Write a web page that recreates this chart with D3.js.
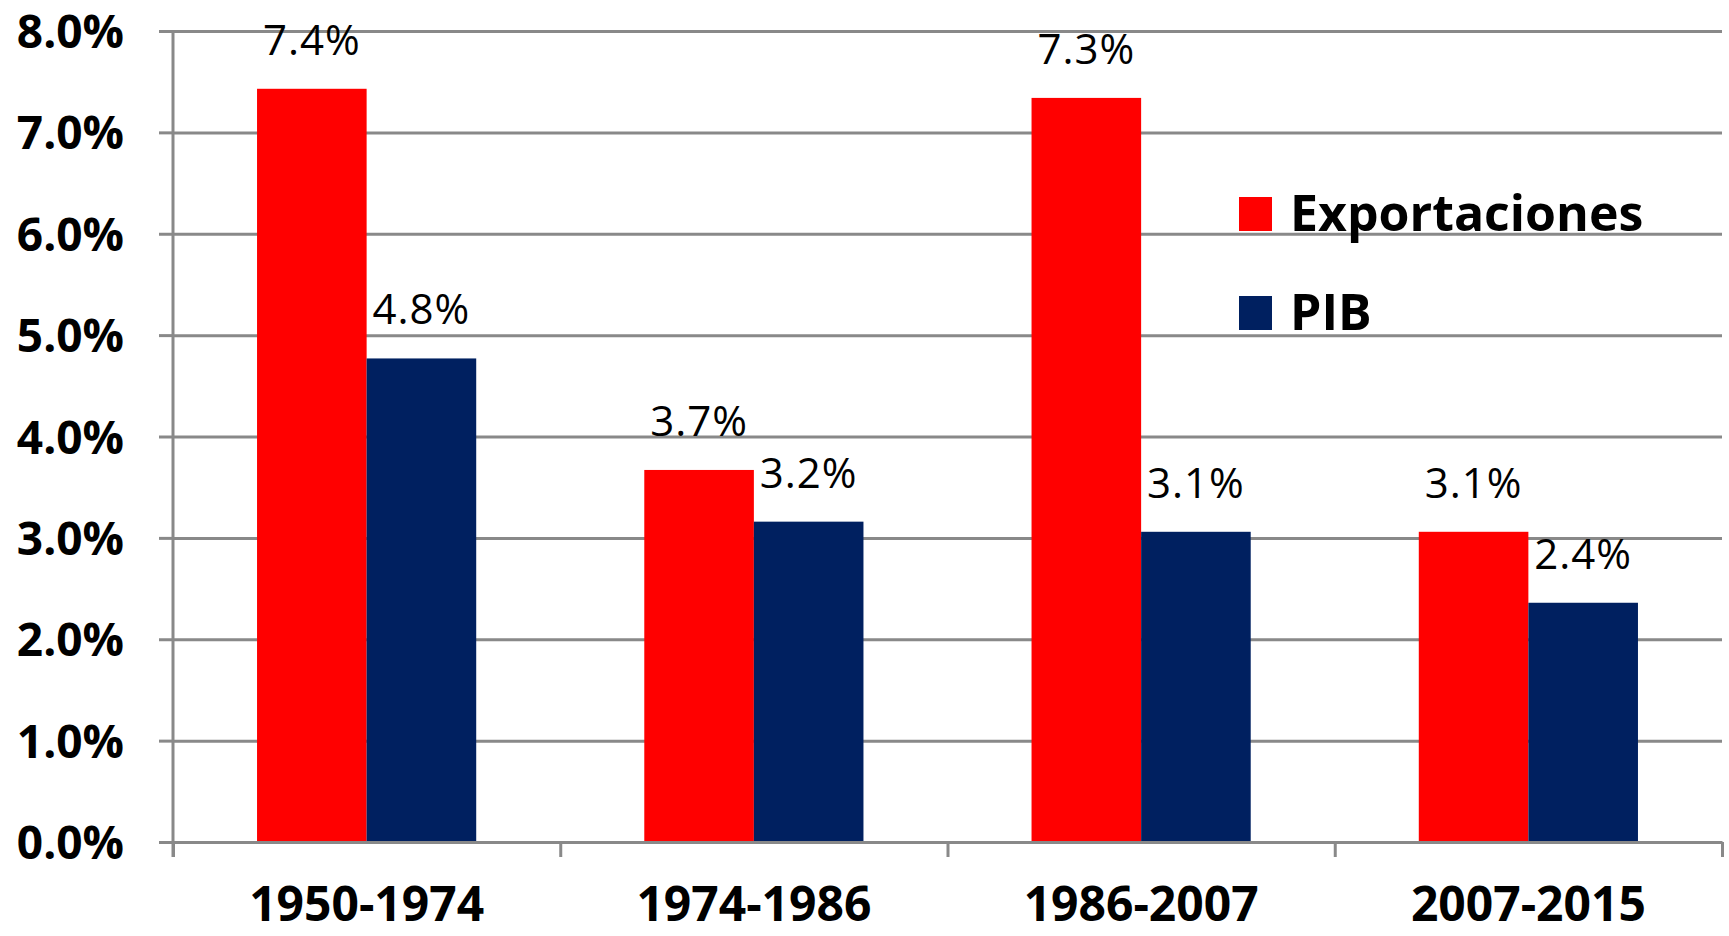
<!DOCTYPE html>
<html>
<head>
<meta charset="utf-8">
<script src="https://cdn.jsdelivr.net/npm/d3@7"></script>
<style>
  body { margin: 0; background: #fff; }
  svg { display: block; }
  svg text { font-family: "Open Sans", sans-serif; }
  .grid line, .axis line, .axis path { stroke: #898989; stroke-width: 3; }
  .grid path { display: none; }
</style>
</head>
<body>
<div id="chart"></div>
<script>
var categories = ['1950-1974', '1974-1986', '1986-2007', '2007-2015'];
var series = ['Exportaciones', 'PIB'];
var exportaciones = [7.43, 3.67, 7.34, 3.06];
var pib = [4.77, 3.16, 3.06, 2.36];
var yTicks = [0, 1, 2, 3, 4, 5, 6, 7, 8];
var colors = ['#ff0000', '#002060'];

var margin = { top: 31, right: 7, bottom: 94, left: 173 },
  width = 1729 - margin.left - margin.right,
  height = 936 - margin.top - margin.bottom;

var data = categories.map(function(c, i){
  return { cat: c, values: [exportaciones[i], pib[i]] };
});

var x0 = d3.scaleBand()
  .domain(categories)
  .range([0, width])
  .paddingInner(0.434)
  .paddingOuter(0.217);

var x1 = d3.scaleBand()
  .domain(d3.range(series.length))
  .range([0, x0.bandwidth()]);

var xEdge = d3.scaleLinear()
  .domain([0, categories.length])
  .range([0, width]);

var y = d3.scaleLinear()
  .domain([0, 8])
  .range([height, 0]);

var svg = d3.select('#chart').append('svg')
  .attr('width', 1729)
  .attr('height', 936)
  .append('g')
    .attr('transform', 'translate(' + margin.left + ',' + margin.top + ')');

// gridlines
svg.append('g')
  .attr('class', 'grid')
  .call(d3.axisLeft(y).tickValues(yTicks).tickSize(-width).tickFormat(''));

// y axis
var yAxis = svg.append('g')
  .attr('class', 'axis')
  .call(d3.axisLeft(y)
    .tickValues(yTicks)
    .tickSize(14)
    .tickSizeOuter(0)
    .tickPadding(35)
    .tickFormat(function(d){ return d.toFixed(1) + '%'; })
  );
yAxis.select('.domain').remove();
yAxis.selectAll('text')
  .attr('dy', '0.36em')
  .style('font-size', '46px')
  .style('font-weight', 'bold')
  .style('fill', '#000');

svg.append('line')
  .attr('x1', 0).attr('x2', 0)
  .attr('y1', y(8)).attr('y2', height + 15)
  .style('stroke', '#898989')
  .style('stroke-width', 3);

// bars
var groups = svg.selectAll('.cat')
  .data(data)
  .enter().append('g')
    .attr('class', 'cat')
    .attr('transform', function(d){ return 'translate(' + x0(d.cat) + ',0)'; });

groups.selectAll('rect')
  .data(function(d){ return d.values; })
  .enter().append('rect')
    .attr('x', function(d, i){ return x1(i); })
    .attr('y', function(d){ return y(d); })
    .attr('width', x1.bandwidth())
    .attr('height', function(d){ return height - y(d); })
    .style('fill', function(d, i){ return colors[i]; });

// value labels
groups.selectAll('.val')
  .data(function(d){ return d.values; })
  .enter().append('text')
    .attr('class', 'val')
    .attr('x', function(d, i){ return x1(i) + x1.bandwidth() / 2; })
    .attr('y', function(d){ return y(d) - 34; })
    .style('text-anchor', 'middle')
    .style('font-size', '42px')
    .style('letter-spacing', '1px')
    .text(function(d){ return d.toFixed(1) + '%'; });

// x axis: boundary ticks
svg.append('g')
  .attr('class', 'axis')
  .attr('transform', 'translate(0,' + height + ')')
  .call(d3.axisBottom(xEdge)
    .tickValues(d3.range(categories.length + 1))
    .tickSize(15)
    .tickSizeOuter(0)
    .tickFormat('')
  );

// x axis labels
var xLabels = svg.append('g')
  .attr('transform', 'translate(0,' + height + ')')
  .call(d3.axisBottom(x0).tickSize(0).tickPadding(45));
xLabels.select('.domain').remove();
xLabels.selectAll('text')
  .style('font-size', '48px')
  .style('font-weight', 'bold')
  .style('fill', '#000');

// legend
var legend = svg.selectAll('.legend')
  .data(series)
  .enter().append('g')
    .attr('class', 'legend')
    .attr('transform', function(d, i){ return 'translate(' + (1239 - margin.left) + ',' + (197 - margin.top + i * 99) + ')'; });

legend.append('rect')
  .attr('width', 33)
  .attr('height', 34)
  .style('fill', function(d, i){ return colors[i]; });

legend.append('text')
  .attr('x', 51)
  .attr('y', 34)
  .style('font-size', '50px')
  .style('font-weight', 'bold')
  .text(function(d){ return d; });
</script>
</body>
</html>
